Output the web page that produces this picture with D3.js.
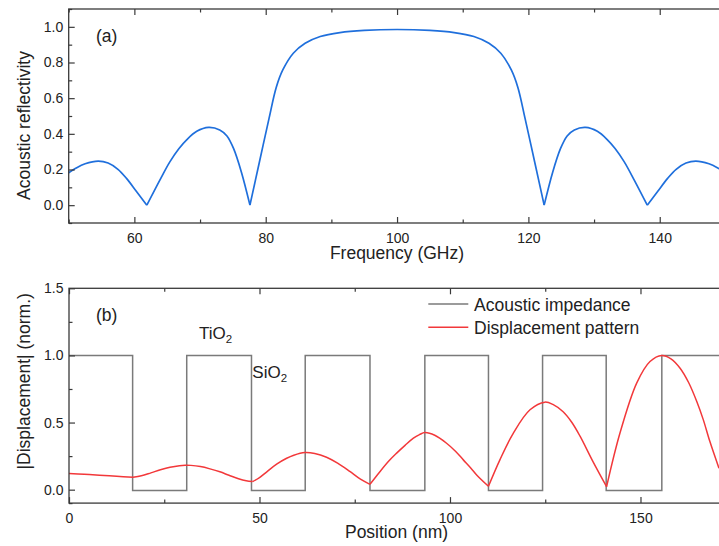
<!DOCTYPE html>
<html>
<head>
<meta charset="utf-8">
<script src="https://cdn.jsdelivr.net/npm/d3@7"></script>
<style>
  body { margin: 0; background: #fff; }
  text { font-family: Arial, "Liberation Sans", sans-serif; fill: #222; }
</style>
</head>
<body>
<div id="chart-area"></div>
<script>
// (a) acoustic reflectivity vs frequency
const freq = [50, 51, 52.5, 54.5, 56, 57.5, 58.8, 60.35, 61.9,
  63.9, 65.4, 66.8, 68, 69.5, 71.3, 73, 74.1, 75.1, 76.3, 77.6,
  79, 80.5, 81.6, 82.6, 84.2, 86, 88.3, 91.3, 95, 100,
  105, 108.7, 111.7, 114, 115.8, 117.4, 118.4, 119.5, 121, 122.4,
  123.7, 124.9, 125.9, 127, 128.7, 130.5, 132, 133.2, 134.6, 136.1, 138.1,
  139.65, 141.2, 142.5, 144, 145.5, 147.5, 149, 150];
const reflectivity = [0.182, 0.205, 0.232, 0.247, 0.236, 0.201, 0.15, 0.075, 0,
  0.142, 0.243, 0.318, 0.368, 0.414, 0.436, 0.422, 0.388, 0.318, 0.185, 0,
  0.235, 0.485, 0.66, 0.758, 0.852, 0.908, 0.946, 0.968, 0.98, 0.985,
  0.98, 0.968, 0.946, 0.908, 0.852, 0.758, 0.66, 0.485, 0.235, 0,
  0.185, 0.318, 0.388, 0.422, 0.436, 0.414, 0.368, 0.318, 0.243, 0.142, 0,
  0.075, 0.15, 0.201, 0.236, 0.247, 0.232, 0.205, 0.182];

// (b) displacement pattern and impedance profile vs position
const position = [0, 4, 8, 12.5, 16.8, 19, 21.5, 24, 26.5, 29, 30.5, 32, 34.5, 37,
  39.6, 42, 44.5, 46.5, 48.2, 50, 52, 54.5, 57, 59, 61.9, 64.5, 67.6, 70.5,
  73.7, 76.5, 79, 81.6, 84, 86, 88.2, 90.4, 92, 93.4, 96, 99.1, 101.5, 103.5,
  105.5, 107, 110.1, 113.1, 116.6, 121, 124.9, 127, 129.7, 132, 134.1, 137.6, 141.1,
  144.6, 149, 152.5, 155.6, 158, 160.4, 162.6, 164.8, 166.5, 168.2, 170.6];
const displacement = [0.12, 0.115, 0.108, 0.1, 0.092, 0.103, 0.125, 0.148, 0.167, 0.179, 0.182, 0.181, 0.172, 0.155,
  0.133, 0.107, 0.081, 0.066, 0.06, 0.09, 0.135, 0.19, 0.232, 0.257, 0.277, 0.27, 0.242, 0.198,
  0.136, 0.078, 0.04, 0.134, 0.215, 0.272, 0.33, 0.384, 0.41, 0.425, 0.405, 0.346, 0.285, 0.222,
  0.16, 0.11, 0.025, 0.222, 0.42, 0.595, 0.652, 0.635, 0.58, 0.5, 0.4, 0.205, 0.022,
  0.42, 0.794, 0.955, 1.0, 0.975, 0.905, 0.8, 0.655, 0.52, 0.36, 0.16];
const layerEdges = [0, 16.7, 30.9, 47.9, 62, 79, 93.4, 110.1, 124.3, 141, 155.6, 172];
const impedance = [1, -0.006, 1, -0.006, 1, -0.006, 1, -0.006, 1, -0.006, 1, 1];

const freqTicks = [60, 80, 100, 120, 140];
const freqMinor = [50, 70, 90, 110, 130, 150];
const reflTicks = [0, 0.2, 0.4, 0.6, 0.8, 1.0];
const reflMinor = [-0.1, 0.1, 0.3, 0.5, 0.7, 0.9, 1.1];
const posTicks = [0, 50, 100, 150];
const posMinor = [25, 75, 125];
const dispTicks = [0, 0.5, 1.0, 1.5];
const dispMinor = [-0.1, 0.25, 0.75, 1.25];
const legendLabels = ['Acoustic impedance', 'Displacement pattern'];

const AXIS_COLOR = '#3a3a3a';

const svg = d3.select('#chart-area').append('svg')
  .attr('width', 719)
  .attr('height', 546);

const xA = d3.scaleLinear().domain([50, 150]).range([68.7, 725.4]);
const yA = d3.scaleLinear().domain([-0.1, 1.1]).range([223, 9]);
const xB = d3.scaleLinear().domain([0, 172]).range([69, 724.3]);
const yB = d3.scaleLinear().domain([-0.1, 1.5]).range([503.1, 288.3]);

// split a series at its local minima so the cusps stay sharp
function lobes(xs, ys) {
  const parts = [];
  let cur = [];
  xs.forEach((x, i) => {
    cur.push([x, ys[i]]);
    if (i > 0 && i < xs.length - 1 && ys[i] < ys[i - 1] && ys[i] < ys[i + 1]) {
      parts.push(cur);
      cur = [[x, ys[i]]];
    }
  });
  parts.push(cur);
  return parts;
}

function drawAxes(x, y, major, minor, yMajor, yMinor, fmtX, fmtY) {
  const [x0, x1] = x.range();
  const [y0, y1] = y.range();
  const g = svg.append('g');

  g.append('g').attr('transform', `translate(0,${y0})`)
    .call(d3.axisBottom(x).tickValues(major).tickSize(-6).tickPadding(10).tickFormat(fmtX));
  g.append('g').attr('transform', `translate(0,${y0})`)
    .call(d3.axisBottom(x).tickValues(minor).tickSize(-3.5).tickFormat(''));
  g.append('g').attr('transform', `translate(0,${y1})`)
    .call(d3.axisTop(x).tickValues(major).tickSize(-6).tickFormat(''));
  g.append('g').attr('transform', `translate(0,${y1})`)
    .call(d3.axisTop(x).tickValues(minor).tickSize(-3.5).tickFormat(''));
  g.append('g').attr('transform', `translate(${x0},0)`)
    .call(d3.axisLeft(y).tickValues(yMajor).tickSize(-6).tickPadding(5.5).tickFormat(fmtY));
  g.append('g').attr('transform', `translate(${x0},0)`)
    .call(d3.axisLeft(y).tickValues(yMinor).tickSize(-3.5).tickFormat(''));

  g.selectAll('.domain').remove();
  g.selectAll('.tick line').attr('stroke', AXIS_COLOR).attr('stroke-width', 1.2);
  g.selectAll('.tick text').attr('font-size', 14).attr('fill', '#222')
    .style('font-family', 'Arial, "Liberation Sans", sans-serif');

  g.append('rect')
    .attr('x', x0).attr('y', y1)
    .attr('width', x1 - x0).attr('height', y0 - y1)
    .attr('fill', 'none')
    .attr('stroke', AXIS_COLOR)
    .attr('stroke-width', 1.3);
}

// ---- panel (a)
const lineA = d3.line().x(d => xA(d[0])).y(d => yA(d[1])).curve(d3.curveCatmullRom.alpha(0.5));
svg.append('g').selectAll('path')
  .data(lobes(freq, reflectivity))
  .enter().append('path')
    .attr('d', lineA)
    .attr('fill', 'none')
    .attr('stroke', '#1f6fdc')
    .attr('stroke-width', 1.7)
    .attr('stroke-linejoin', 'round');

drawAxes(xA, yA, freqTicks, freqMinor, reflTicks, reflMinor, d3.format('d'), d3.format('.1f'));

svg.append('text').attr('x', 96).attr('y', 41.5).attr('font-size', 17.5).text('(a)');
svg.append('text').attr('x', 397).attr('y', 259).attr('font-size', 17.5)
  .attr('text-anchor', 'middle').text('Frequency (GHz)');
svg.append('text').attr('transform', 'translate(29.8,125.5) rotate(-90)')
  .attr('font-size', 17.5).attr('text-anchor', 'middle').text('Acoustic reflectivity');

// ---- panel (b)
const impPoints = layerEdges.map((p, i) => [p, impedance[i]]);
svg.append('path')
  .datum(impPoints)
  .attr('d', d3.line().x(d => xB(d[0])).y(d => yB(d[1])).curve(d3.curveStepAfter))
  .attr('fill', 'none')
  .attr('stroke', '#7a7a7a')
  .attr('stroke-width', 1.5);

const lineB = d3.line().x(d => xB(d[0])).y(d => yB(d[1])).curve(d3.curveCatmullRom.alpha(0.5));
svg.append('g').selectAll('path')
  .data(lobes(position, displacement))
  .enter().append('path')
    .attr('d', lineB)
    .attr('fill', 'none')
    .attr('stroke', '#f2383a')
    .attr('stroke-width', 1.5)
    .attr('stroke-linejoin', 'round');

drawAxes(xB, yB, posTicks, posMinor, dispTicks, dispMinor, d3.format('d'), d3.format('.1f'));

svg.append('text').attr('x', 96).attr('y', 321.3).attr('font-size', 17.5).text('(b)');
svg.append('text').attr('x', 396.5).attr('y', 538.3).attr('font-size', 17.5)
  .attr('text-anchor', 'middle').text('Position (nm)');
svg.append('text').attr('transform', 'translate(29.8,381.3) rotate(-90)')
  .attr('font-size', 17.5).attr('text-anchor', 'middle').text('|Displacement| (norm.)');

// layer labels
const tio = svg.append('text').attr('x', 199).attr('y', 339.3).attr('font-size', 17);
tio.append('tspan').text('TiO');
tio.append('tspan').attr('font-size', 11.5).attr('dy', 4).text('2');
const sio = svg.append('text').attr('x', 252.3).attr('y', 377.5).attr('font-size', 17);
sio.append('tspan').text('SiO');
sio.append('tspan').attr('font-size', 11.5).attr('dy', 4).text('2');

// legend
const legendColors = ['#7a7a7a', '#f2383a'];
const legend = svg.append('g').selectAll('g')
  .data(legendLabels)
  .enter().append('g')
    .attr('transform', (d, i) => `translate(428.3,${304 + i * 23.3})`);
legend.append('line')
  .attr('x1', 0).attr('x2', 40)
  .attr('stroke', (d, i) => legendColors[i])
  .attr('stroke-width', 1.5);
legend.append('text')
  .attr('x', 45.7).attr('y', 6.7)
  .attr('font-size', 17.5)
  .text(d => d);
</script>
</body>
</html>
